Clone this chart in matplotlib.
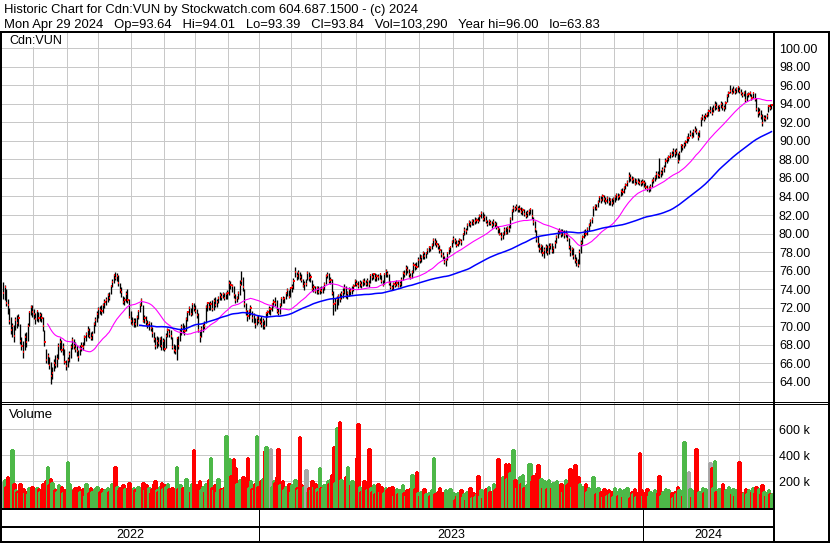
import numpy as np
import pandas as pd
import matplotlib
matplotlib.use("Agg")
import matplotlib.pyplot as plt
import matplotlib.transforms as mtransforms
from matplotlib.lines import Line2D
from matplotlib.patches import Rectangle

plt.rcParams["font.family"] = ["Liberation Sans", "DejaVu Sans"]

# TSX holidays in the window (no bars)
holidays = ["2022-05-23", "2022-07-01", "2022-08-01", "2022-09-05", "2022-10-10",
            "2022-12-26", "2022-12-27", "2023-01-02", "2023-02-20", "2023-04-07",
            "2023-05-22", "2023-07-03", "2023-08-07", "2023-09-04", "2023-10-09",
            "2023-12-25", "2023-12-26", "2024-01-01", "2024-02-19", "2024-03-29"]
first_day = "2022-05-02"

# daily closes (month by month)
close = [
    # 2022 May
    73.6, 74.2, 72.5, 72.3, 70.6, 69.6, 70.0, 69.0, 70.7, 70.4, 70.9, 68.4, 67.9, 67.2, 68.8, 68.3, 70.0, 71.5, 72.1, 71.5, 71.3,
    # Jun
    70.8, 71.6, 70.9, 71.2, 70.9, 70.0, 68.3, 66.4, 66.8, 65.8, 64.6, 65.0, 66.0, 65.8, 66.5, 67.9, 68.3, 67.4, 67.8, 66.2, 65.7, 66.4,
    # Jul
    67.0, 67.8, 68.5, 67.9, 67.6, 67.3, 66.7, 67.6, 67.9, 67.8, 68.9, 69.2, 69.6, 69.0, 68.7, 69.1, 70.3, 70.7, 71.3, 71.9,
    # Aug
    71.8, 71.6, 72.3, 72.6, 72.8, 73.4, 73.0, 74.3, 74.8, 75.5, 75.2, 75.4, 74.7, 73.9, 73.7, 72.6, 72.8, 73.5, 72.8, 71.0, 70.6, 70.3,
    # Sep
    70.6, 70.2, 71.0, 71.6, 72.3, 72.8, 70.6, 70.9, 70.5, 70.1, 70.4, 69.8, 69.3, 68.6, 67.9, 68.4, 68.2, 68.6, 67.9, 68.4, 67.6,
    # Oct
    69.0, 69.6, 69.2, 69.0, 67.8, 67.5, 67.3, 68.7, 67.9, 69.4, 69.9, 69.6, 69.5, 70.8, 71.5, 72.0, 71.3, 72.4, 72.0, 71.6,
    # Nov
    71.2, 69.6, 68.9, 69.7, 70.2, 70.0, 72.1, 72.5, 72.1, 72.4, 71.9, 72.7, 72.3, 72.6, 73.0, 73.4, 73.2, 73.5, 73.1, 73.5, 73.6, 74.7,
    # Dec
    74.5, 74.3, 73.4, 72.8, 73.0, 73.6, 74.5, 74.9, 74.2, 72.4, 71.6, 71.1, 71.6, 72.0, 70.9, 71.2, 70.3, 70.9, 70.6, 70.5,
    # 2023 Jan
    70.3, 70.6, 70.0, 71.4, 71.5, 71.9, 71.9, 72.4, 72.6, 72.5, 71.6, 71.4, 72.3, 73.0, 72.9, 73.0, 73.6, 73.9, 73.2, 74.1, 74.2,
    # Feb
    74.9, 75.9, 75.4, 75.8, 75.3, 75.0, 74.4, 74.6, 74.6, 75.7, 75.2, 75.3, 74.0, 74.2, 73.8, 74.1, 73.7, 73.9, 73.8,
    # Mar
    74.1, 74.6, 75.4, 75.5, 74.9, 75.0, 73.6, 72.4, 72.5, 72.9, 73.3, 72.9, 73.5, 73.7, 74.1, 73.3, 73.6, 74.0, 73.8, 73.9, 74.4, 74.9, 74.6,
    # Apr
    74.3, 74.7, 74.5, 74.9, 74.8, 74.6, 74.9, 74.6, 75.5, 75.3, 75.6, 75.2, 75.4, 75.3, 75.6, 74.9, 74.5, 75.6, 76.0,
    # May
    75.6, 74.7, 74.2, 74.1, 74.6, 74.5, 74.7, 74.4, 74.6, 75.0, 75.8, 75.6, 76.3, 76.1, 75.6, 75.3, 75.9, 76.6, 76.5, 76.4, 77.2, 77.1,
    # Jun
    77.5, 77.9, 77.6, 77.9, 78.2, 78.5, 78.4, 78.8, 79.3, 79.1, 78.9, 78.7, 78.2, 77.8, 77.6, 76.9, 77.2, 77.9, 78.3, 78.5, 79.1, 79.4,
    # Jul
    79.2, 78.8, 79.0, 79.3, 79.1, 79.9, 80.4, 80.3, 80.9, 81.2, 81.0, 81.4, 81.1, 81.3, 81.5, 81.4, 81.9, 82.2, 81.6, 81.8,
    # Aug
    81.4, 81.0, 81.3, 81.1, 80.9, 81.2, 81.0, 80.7, 80.5, 80.0, 79.6, 79.9, 80.4, 80.1, 80.6, 80.5, 81.6, 82.4, 82.8, 82.7, 82.9, 82.6,
    # Sep
    82.7, 82.3, 82.5, 82.1, 81.9, 82.2, 82.4, 82.6, 81.9, 81.2, 80.5, 79.4, 78.9, 78.3, 78.7, 77.9, 78.2, 78.6, 78.0, 78.5,
    # Oct
    78.8, 78.1, 78.4, 79.0, 79.6, 80.1, 80.3, 79.9, 80.2, 79.8, 80.0, 79.4, 78.6, 78.0, 78.3, 77.6, 77.1, 76.9, 76.6, 78.0, 79.0,
    # Nov
    79.6, 80.2, 80.0, 80.5, 80.9, 81.3, 81.6, 82.8, 83.0, 82.8, 83.4, 83.9, 83.6, 84.0, 83.7, 83.5, 83.8, 83.4, 83.6, 83.3, 83.7, 83.9,
    # Dec
    84.2, 83.9, 84.1, 84.6, 84.5, 84.9, 85.2, 85.6, 86.2, 86.0, 85.8, 85.9, 85.3, 85.7, 85.6, 85.5, 85.4, 85.6, 85.4,
    # 2024 Jan
    85.0, 84.8, 84.9, 85.0, 85.7, 85.8, 86.1, 86.4, 86.3, 86.2, 86.5, 86.9, 87.1, 87.8, 88.0, 88.2, 88.6, 88.5, 88.9, 88.7, 88.9, 87.8,
    # Feb
    88.6, 89.5, 89.3, 89.6, 89.9, 90.3, 90.3, 90.7, 90.4, 91.0, 91.2, 90.9, 90.4, 91.0, 92.3, 92.6, 92.4, 92.7, 92.9, 93.2,
    # Mar
    93.2, 93.0, 93.4, 93.9, 93.6, 93.3, 93.7, 94.0, 93.6, 93.5, 94.1, 94.8, 95.2, 95.4, 95.2, 95.5, 95.3, 95.6, 95.8, 95.4,
    # Apr
    95.1, 94.9, 95.2, 94.4, 94.9, 95.0, 95.1, 94.6, 95.1, 94.5, 93.4, 93.0, 93.1, 92.7, 91.9, 92.5, 92.4, 92.7, 93.7, 93.5, 93.84,
]

high = [
    74.8, 74.5, 74.0, 72.9, 72.0, 71.0, 70.4, 70.1, 71.0, 71.2, 71.3, 70.2, 68.9, 68.4, 69.3, 69.4, 70.4, 71.7, 72.3, 72.3, 71.9,
    71.4, 71.8, 71.5, 71.5, 71.4, 71.0, 69.6, 67.6, 67.1, 66.7, 66.2, 65.6, 66.5, 66.9, 67.0, 68.2, 68.7, 68.5, 68.2, 67.6, 66.4, 66.7,
    67.3, 68.1, 68.9, 68.6, 68.3, 68.0, 67.4, 68.0, 68.3, 68.3, 69.1, 69.4, 70.0, 69.8, 69.4, 69.5, 70.5, 71.0, 71.6, 72.1,
    72.2, 72.3, 72.5, 72.9, 73.2, 73.6, 73.7, 74.5, 75.1, 75.6, 75.9, 75.8, 75.5, 74.7, 74.2, 73.3, 73.2, 73.8, 74.0, 72.9, 71.6, 71.0,
    70.9, 70.9, 71.2, 71.8, 72.5, 73.0, 72.3, 71.2, 71.1, 70.7, 70.6, 70.5, 69.9, 69.4, 68.9, 69.0, 68.9, 68.9, 69.0, 68.7, 68.6,
    69.3, 69.8, 69.7, 69.6, 68.9, 68.1, 68.0, 68.9, 69.0, 69.7, 70.3, 70.4, 70.1, 71.0, 71.7, 72.2, 72.0, 72.5, 72.5, 72.3,
    71.9, 71.4, 69.6, 70.0, 70.3, 70.6, 72.3, 72.6, 72.6, 72.7, 72.8, 73.0, 73.2, 72.9, 73.3, 73.7, 73.6, 73.7, 73.6, 73.7, 73.9, 75.0,
    74.9, 74.6, 74.3, 73.5, 73.3, 73.8, 75.0, 76.0, 75.3, 74.0, 72.5, 71.8, 71.9, 72.3, 71.7, 71.4, 70.9, 71.1, 71.2, 70.9,
    71.1, 70.9, 70.7, 71.5, 71.8, 72.2, 72.1, 72.5, 72.9, 73.2, 72.8, 72.0, 72.5, 73.2, 73.3, 73.2, 73.7, 74.1, 73.9, 74.2, 74.6,
    75.2, 76.4, 75.9, 76.1, 75.9, 75.6, 75.1, 74.9, 75.1, 76.0, 75.9, 75.6, 75.0, 74.6, 74.4, 74.4, 74.3, 74.2, 74.3,
    74.4, 74.8, 75.6, 75.9, 75.7, 75.3, 75.1, 73.8, 73.0, 73.3, 73.5, 73.6, 73.8, 74.1, 74.6, 74.3, 73.8, 74.2, 74.1, 74.3, 74.6, 75.1, 75.0,
    74.9, 75.0, 74.9, 75.1, 75.2, 75.0, 75.2, 75.0, 75.6, 75.7, 75.8, 75.7, 75.6, 75.6, 75.8, 75.5, 75.0, 75.8, 76.2,
    76.0, 75.6, 74.9, 74.5, 74.8, 74.9, 75.0, 74.9, 74.9, 75.3, 76.0, 76.1, 76.6, 76.5, 76.2, 75.8, 76.1, 76.9, 76.8, 76.9, 77.5, 77.8,
    77.7, 78.1, 78.0, 78.0, 78.4, 78.7, 78.7, 79.0, 79.5, 79.5, 79.3, 79.0, 78.8, 78.3, 78.0, 77.6, 77.4, 78.0, 78.6, 78.6, 79.3, 79.7,
    79.5, 79.3, 79.3, 79.5, 79.4, 80.1, 80.7, 80.6, 81.1, 81.5, 81.3, 81.6, 81.6, 81.8, 81.7, 81.8, 82.1, 82.4, 82.3, 82.1,
    81.9, 81.5, 81.6, 81.5, 81.3, 81.6, 81.4, 81.2, 80.8, 80.6, 80.2, 80.2, 80.7, 80.7, 80.8, 80.9, 81.8, 82.7, 83.1, 83.0, 83.2, 83.0,
    83.1, 82.9, 82.8, 82.6, 82.4, 82.5, 82.7, 82.8, 82.6, 81.8, 81.4, 80.4, 79.7, 79.0, 78.9, 78.8, 78.5, 78.9, 78.8, 79.0,
    79.0, 79.0, 78.7, 79.3, 79.8, 80.4, 80.6, 80.5, 80.5, 80.4, 80.4, 80.1, 79.5, 78.8, 78.6, 78.4, 77.8, 77.5, 77.3, 78.3, 79.3,
    79.8, 80.4, 80.5, 80.7, 81.1, 81.6, 81.8, 83.0, 83.2, 83.2, 83.6, 84.1, 84.0, 84.3, 84.2, 83.9, 84.0, 83.9, 83.8, 83.8, 83.9, 84.2,
    84.4, 84.4, 84.3, 84.8, 84.9, 85.1, 85.5, 85.8, 86.6, 86.4, 86.2, 86.1, 86.0, 85.9, 86.0, 85.9, 85.8, 85.9, 85.8,
    85.6, 85.2, 85.1, 85.3, 85.9, 86.1, 86.3, 86.7, 86.7, 88.1, 86.8, 87.2, 87.4, 88.1, 88.3, 88.5, 88.8, 88.9, 89.2, 89.1, 89.2, 88.7,
    88.9, 89.7, 89.7, 89.9, 90.1, 90.5, 90.8, 91.2, 91.0, 91.3, 91.6, 91.4, 91.0, 91.2, 92.6, 92.9, 92.8, 93.0, 93.1, 93.4,
    93.8, 93.6, 93.9, 94.3, 94.2, 93.9, 93.9, 94.3, 94.2, 93.9, 94.3, 95.0, 95.4, 96.0, 95.7, 95.9, 95.7, 95.8, 95.9, 95.8,
    95.6, 95.3, 95.4, 95.5, 95.1, 95.3, 95.4, 95.0, 95.3, 95.2, 94.6, 93.6, 93.5, 93.3, 92.9, 92.8, 92.8, 93.0, 93.9, 94.0, 94.01,
]

low = [
    72.9, 72.8, 72.2, 71.3, 70.2, 69.2, 68.8, 68.3, 69.6, 69.8, 70.0, 68.1, 67.4, 66.6, 67.4, 67.8, 68.4, 70.0, 71.2, 71.0, 70.8,
    70.3, 70.6, 70.5, 70.6, 70.5, 69.5, 67.9, 66.0, 65.9, 65.4, 63.83, 64.3, 65.2, 65.5, 65.6, 66.5, 67.5, 67.2, 66.9, 65.9, 65.3, 65.6,
    66.2, 66.6, 67.6, 67.6, 67.2, 66.8, 66.3, 66.9, 67.3, 67.4, 68.0, 68.4, 68.9, 68.7, 68.5, 68.5, 69.3, 70.0, 70.5, 70.9,
    71.3, 71.2, 71.4, 72.0, 72.3, 72.6, 72.8, 73.5, 74.2, 74.7, 75.0, 74.9, 74.3, 73.6, 73.2, 72.4, 72.3, 72.6, 72.5, 70.9, 70.3, 70.1,
    69.9, 69.9, 70.0, 70.8, 71.5, 72.2, 70.5, 70.4, 70.1, 69.8, 69.6, 69.5, 68.9, 68.3, 67.6, 67.7, 67.9, 67.8, 67.5, 67.4, 67.3,
    67.7, 68.8, 68.8, 68.6, 67.6, 67.1, 67.0, 66.4, 67.6, 68.4, 69.1, 69.3, 69.1, 69.5, 70.6, 71.2, 71.1, 71.2, 71.6, 71.4,
    70.9, 69.4, 68.3, 68.8, 69.4, 69.7, 70.4, 71.7, 71.8, 71.8, 71.6, 71.8, 72.1, 72.1, 72.5, 72.8, 72.8, 73.0, 72.8, 72.9, 72.9, 73.4,
    74.0, 73.7, 73.1, 72.5, 72.6, 72.9, 73.4, 74.5, 73.8, 72.1, 71.2, 70.6, 70.8, 71.2, 70.5, 70.4, 69.8, 70.1, 70.4, 70.2,
    69.9, 69.7, 69.7, 70.0, 71.0, 71.3, 71.2, 71.6, 72.1, 72.2, 71.4, 71.2, 71.3, 72.2, 72.5, 72.5, 72.9, 73.3, 73.0, 73.2, 73.7,
    74.0, 75.3, 75.0, 75.1, 75.0, 74.8, 74.2, 73.9, 74.3, 75.0, 74.9, 74.8, 73.8, 73.7, 73.6, 73.5, 73.5, 73.5, 73.6,
    73.6, 73.9, 74.6, 75.2, 74.7, 74.6, 73.4, 71.2, 71.6, 71.9, 72.3, 72.6, 72.9, 73.1, 73.5, 73.1, 72.9, 73.3, 73.4, 73.5, 73.8, 74.3, 74.3,
    74.1, 74.2, 74.1, 74.3, 74.5, 74.3, 74.4, 74.2, 74.7, 75.0, 75.1, 74.9, 74.9, 75.0, 75.1, 74.7, 74.3, 74.6, 75.3,
    75.3, 74.5, 74.0, 73.9, 73.9, 74.2, 74.3, 74.2, 74.2, 74.4, 75.0, 75.3, 75.5, 75.8, 75.3, 75.1, 75.2, 75.8, 76.1, 76.2, 76.4, 76.8,
    76.9, 77.3, 77.3, 77.4, 77.8, 78.0, 78.1, 78.3, 78.7, 78.8, 78.5, 78.3, 77.9, 77.5, 77.3, 76.7, 76.5, 77.1, 77.8, 78.0, 78.5, 79.0,
    78.9, 78.6, 78.7, 78.9, 78.8, 79.3, 79.8, 80.0, 80.4, 80.8, 80.7, 80.9, 80.9, 81.0, 81.1, 81.1, 81.3, 81.7, 81.3, 81.4,
    81.1, 80.8, 80.9, 80.9, 80.6, 80.8, 80.7, 80.5, 80.1, 79.8, 79.3, 79.4, 79.8, 79.9, 80.0, 80.2, 80.6, 81.5, 82.3, 82.4, 82.5, 82.3,
    82.3, 82.1, 82.0, 81.9, 81.7, 81.8, 82.0, 82.1, 81.6, 80.9, 80.2, 79.1, 78.6, 78.0, 77.9, 77.6, 77.4, 77.9, 77.7, 77.8,
    78.3, 77.9, 77.9, 78.4, 79.0, 79.5, 79.9, 79.6, 79.7, 79.5, 79.6, 79.2, 78.3, 77.6, 77.7, 77.3, 76.8, 76.5, 76.4, 76.7, 77.9,
    78.9, 79.5, 79.7, 79.8, 80.3, 80.8, 81.1, 81.9, 82.5, 82.5, 82.9, 83.4, 83.3, 83.5, 83.4, 83.2, 83.3, 83.1, 83.1, 83.0, 83.2, 83.4,
    83.6, 83.6, 83.7, 84.0, 84.2, 84.4, 84.8, 85.1, 85.6, 85.7, 85.4, 85.5, 85.2, 85.3, 85.3, 85.2, 85.1, 85.2, 85.0,
    84.8, 84.6, 84.5, 84.6, 85.0, 85.5, 85.7, 85.9, 86.0, 86.0, 86.1, 86.3, 86.6, 87.2, 87.6, 87.8, 88.1, 88.2, 88.4, 88.3, 88.5, 87.6,
    87.9, 88.8, 89.0, 89.2, 89.4, 89.8, 90.0, 90.5, 90.3, 90.4, 90.9, 90.7, 90.1, 90.4, 91.6, 92.2, 92.1, 92.3, 92.6, 92.7,
    93.0, 92.8, 93.1, 93.3, 93.4, 93.2, 93.2, 93.5, 93.3, 93.2, 93.4, 94.2, 94.7, 95.1, 95.0, 95.1, 95.0, 95.1, 95.3, 95.1,
    94.9, 94.7, 94.8, 94.2, 94.3, 94.7, 94.8, 94.4, 94.6, 94.3, 93.2, 92.6, 92.8, 92.4, 91.6, 92.1, 92.1, 92.3, 93.1, 93.3, 93.39,
]

# daily volume, thousands of shares
volume = [
    190, 210, 160, 230, 200, 150, 440, 180, 130, 120, 110, 180, 150, 140, 110, 120, 100, 150, 130, 160, 110,
    120, 150, 140, 120, 130, 180, 160, 200, 310, 170, 220, 190, 150, 130, 120, 170, 140, 160, 110, 130, 120, 350,
    180, 140, 120, 130, 150, 110, 160, 120, 100, 140, 90, 180, 130, 110, 150, 120, 100, 140, 160, 110,
    120, 140, 110, 130, 100, 150, 120, 140, 180, 110, 310, 160, 130, 150, 120, 170, 140, 110, 150, 190, 140, 120,
    150, 130, 120, 160, 110, 140, 190, 130, 170, 120, 150, 110, 140, 180, 200, 130, 120, 160, 190, 140, 170,
    160, 180, 140, 120, 150, 130, 120, 310, 140, 170, 120, 150, 130, 220, 160, 140, 120, 180, 440, 150,
    170, 150, 200, 130, 160, 120, 180, 140, 210, 380, 150, 130, 170, 120, 220, 150, 140, 130, 160, 550, 190, 370,
    240, 200, 370, 300, 180, 150, 210, 160, 230, 170, 190, 380, 150, 200, 140, 130, 180, 550, 160, 120,
    200, 220, 434, 465, 180, 240, 450, 160, 200, 190, 230, 450, 170, 150, 200, 130, 160, 140, 180, 120, 170,
    180, 210, 150, 130, 540, 170, 140, 160, 290, 120, 150, 130, 200, 160, 180, 140, 120, 300, 150,
    150, 170, 130, 200, 180, 220, 250, 465, 190, 607, 230, 654, 210, 180, 160, 230, 310, 150, 170, 200, 140, 130, 380,
    636, 160, 120, 140, 200, 110, 130, 450, 150, 120, 170, 100, 140, 180, 120, 160, 130, 110, 150,
    130, 150, 110, 160, 90, 120, 140, 100, 130, 80, 170, 110, 90, 130, 120, 150, 250, 100, 140, 270, 110, 90,
    120, 80, 140, 100, 70, 110, 90, 130, 382, 100, 80, 120, 150, 90, 110, 70, 130, 100, 80, 140, 90, 110,
    60, 90, 110, 70, 130, 80, 100, 60, 120, 90, 150, 70, 110, 80, 100, 240, 90, 130, 70, 110,
    140, 100, 160, 120, 90, 180, 130, 150, 374, 200, 170, 230, 190, 330, 220, 330, 260, 180, 440, 210, 150, 170,
    230, 180, 250, 150, 140, 170, 335, 335, 200, 240, 190, 260, 328, 180, 220, 150, 200, 170, 140, 210,
    170, 150, 190, 130, 200, 160, 140, 180, 120, 150, 210, 170, 190, 293, 160, 240, 328, 200, 230, 180, 150,
    160, 130, 180, 120, 150, 110, 140, 233, 130, 100, 150, 90, 120, 80, 140, 110, 90, 130, 100, 120, 80, 150,
    120, 90, 140, 100, 80, 130, 110, 150, 90, 70, 120, 100, 140, 80, 110, 413, 130, 90, 110,
    110, 140, 90, 120, 100, 80, 130, 70, 110, 240, 90, 120, 80, 140, 100, 130, 90, 110, 70, 120, 100, 160,
    130, 110, 90, 498, 120, 100, 270, 140, 80, 110, 130, 451, 90, 120, 100, 150, 110, 140, 130, 100,
    342, 300, 150, 355, 120, 100, 140, 90, 180, 110, 130, 80, 160, 120, 100, 140, 90, 130, 110, 348,
    120, 90, 110, 140, 100, 130, 80, 120, 150, 110, 160, 130, 140, 100, 170, 120, 90, 110, 130, 100, 103,
]

price_ticks = list(range(64, 101, 2))
volume_ticks = [200, 400, 600]
ma_short, ma_long = 30, 90

title_1 = "Historic Chart for Cdn:VUN by Stockwatch.com 604.687.1500 - (c) 2024"
title_2 = ("Mon Apr 29 2024   Op=93.64   Hi=94.01   Lo=93.39   Cl=93.84   "
           "Vol=103,290   Year hi=96.00   lo=63.83")

W, H = 830, 543
GRID = "#c8c8c8"
PX = 0.72  # points per pixel at 100 dpi


def box(x0, y0, x1, y1):
    # pixel box (top-left origin) -> figure fraction
    return [x0 / W, 1 - y1 / H, (x1 - x0) / W, (y1 - y0) / H]


def fig_line(fig, xs, ys, px):
    fig.add_artist(Line2D([x / W for x in xs], [1 - y / H for y in ys],
                          color="black", lw=px * PX, transform=fig.transFigure,
                          solid_capstyle="butt"))


def main():
    n = min(len(close), len(high), len(low), len(volume))
    c = np.array(close[:n])
    hi = np.array(high[:n])
    lo = np.array(low[:n])
    vol = np.array(volume[:n])
    x = np.arange(n)

    days = pd.bdate_range(first_day, periods=n, freq="C", holidays=holidays)
    month_start = [i for i in range(1, n) if days[i].month != days[i - 1].month]
    year_start = [i for i in range(1, n) if days[i].year != days[i - 1].year]
    grid_x = np.array(month_start) - 1.4
    year_x = np.array(year_start) - 1.4

    fig = plt.figure(figsize=(W / 100, H / 100), dpi=100)
    fig.patch.set_facecolor("white")

    xlim = (-0.65, 501.0)

    # price panel
    ax = fig.add_axes(box(2, 33, 773, 401))
    ax.set_xlim(*xlim)
    ax.set_ylim(61.95, 101.62)
    ax.set_yticks(price_ticks)
    ax.set_yticklabels([f"{t:.2f}" for t in price_ticks])
    ax.set_xticks(grid_x)
    ax.grid(True, color=GRID, lw=1 * PX)
    ax.set_axisbelow(True)
    ax.tick_params(length=0, labelbottom=False, labelleft=False, labelright=True,
                   right=False, pad=4.3, labelsize=9)
    for s in ax.spines.values():
        s.set_visible(False)

    ax.vlines(x, lo, hi, color="black", lw=0.95)
    ax.hlines(c, x, x + 0.75, color="red", lw=1.4)
    sc = pd.Series(c)
    ax.plot(x, sc.rolling(ma_short).mean(), color="#ff00ff", lw=0.8)
    ax.plot(x, sc.rolling(ma_long).mean(), color="#0000ff", lw=1.1)

    # volume panel
    axv = fig.add_axes(box(2, 403, 773, 507.5))
    axv.set_xlim(*xlim)
    axv.set_ylim(0, 799)
    up = np.r_[0, np.sign(np.diff(c))]
    colors = np.where(up > 0, "#4db848", np.where(up < 0, "#ff0000", "#a8a8a8"))
    axv.bar(x, vol, width=1.0, color=colors, edgecolor=colors, lw=0.9,
            antialiased=False)
    axv.set_yticks(volume_ticks)
    axv.set_yticklabels([f"{t} k" for t in volume_ticks])
    axv.set_xticks(grid_x)
    axv.grid(True, color=GRID, lw=1 * PX)
    axv.set_axisbelow(True)
    axv.tick_params(length=0, labelbottom=False, labelleft=False, labelright=True,
                    right=False, pad=4.3, labelsize=9)
    for s in axv.spines.values():
        s.set_visible(False)

    # header text
    fig.text(4 / W, 1 - 13 / H, title_1, fontsize=9.4, va="baseline")
    fig.text(4 / W, 1 - 28 / H, title_2, fontsize=9.4, va="baseline")

    # panel labels
    fig.add_artist(Rectangle((2 / W, 1 - 47 / H), 62 / W, 14 / H, facecolor="white",
                             edgecolor="none", transform=fig.transFigure, zorder=2))
    fig.text(9 / W, 1 - 44 / H, "Cdn:VUN", fontsize=9, va="baseline", zorder=3)
    fig.text(9 / W, 1 - 418 / H, "Volume", fontsize=9.5, va="baseline", zorder=3)

    # frame lines
    fig_line(fig, [0, W], [32, 32], 2)
    fig_line(fig, [1, 1], [31, H], 2)
    fig_line(fig, [774, 774], [31, H], 2)
    fig_line(fig, [829, 829], [31, H], 2)
    fig_line(fig, [0, W], [401.5, 401.5], 1)
    fig_line(fig, [0, W], [403.5, 403.5], 1)
    fig_line(fig, [0, 774], [509, 509], 2)
    fig_line(fig, [0, 774], [526.5, 526.5], 2)
    fig_line(fig, [0, W], [542, 542], 2)

    # year row
    tr = mtransforms.blended_transform_factory(axv.transData, fig.transFigure)
    for xs in year_x:
        fig.add_artist(Line2D([xs, xs], [1 - 510 / H, 1 - 541 / H], color="black",
                              lw=1 * PX, transform=tr))
    edges = [xlim[0]] + list(year_x) + [xlim[1]]
    for k in range(len(edges) - 1):
        yr = days[0].year + k
        fig.text((edges[k] + edges[k + 1]) / 2, 1 - 534.5 / H, str(yr), transform=tr,
                 fontsize=9, ha="center", va="center")

    fig.savefig("out.png", dpi=100)
    plt.close(fig)


if __name__ == "__main__":
    main()
